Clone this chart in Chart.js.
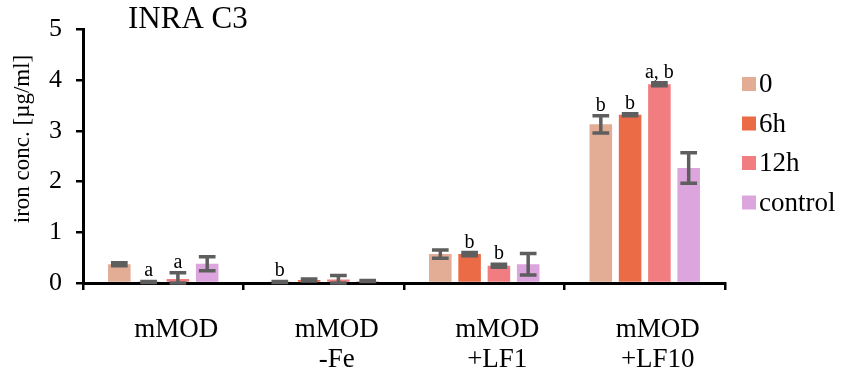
<!DOCTYPE html>
<html>
<head>
<meta charset="utf-8">
<script src="https://cdn.jsdelivr.net/npm/chart.js@4"></script>
<style>
  html, body { margin: 0; padding: 0; background: #fff; }
  #wrap { width: 851px; height: 376px; }
</style>
</head>
<body>
<div id="wrap"><canvas id="myChart" width="851" height="376"></canvas></div>
<script>
// data
const categories = [['mMOD'], ['mMOD', '-Fe'], ['mMOD', '+LF1'], ['mMOD', '+LF10']];
const seriesNames = ['0', '6h', '12h', 'control'];
const seriesColors = ['#E2AC95', '#EB6B47', '#F17D80', '#DDA5DD'];

const values0 = [0.37, 0.02, 0.57, 3.13];
const values6h = [0.02, 0.06, 0.57, 3.32];
const values12h = [0.08, 0.07, 0.34, 3.92];
const valuesControl = [0.38, 0.04, 0.37, 2.27];

const err0 = [0.03, 0.01, 0.08, 0.17];
const err6h = [0.01, 0.02, 0.03, 0.02];
const err12h = [0.12, 0.08, 0.03, 0.03];
const errControl = [0.14, 0.01, 0.21, 0.30];

const letters0 = ['', 'b', '', 'b'];
const letters6h = ['a', '', 'b', 'b'];
const letters12h = ['a', '', 'b', 'a, b'];
const lettersControl = ['', '', '', ''];

const yTicks = [0, 1, 2, 3, 4, 5];

const serif = "'Liberation Serif', 'DejaVu Serif', serif";

const allValues = [values0, values6h, values12h, valuesControl];
const allErrors = [err0, err6h, err12h, errControl];
const allLetters = [letters0, letters6h, letters12h, lettersControl];

// error bars and significance letters
const errorBarPlugin = {
  id: 'errorBars',
  afterDatasetsDraw(chart) {
    const ctx = chart.ctx;
    const yScale = chart.scales.y;
    chart.data.datasets.forEach((ds, i) => {
      const meta = chart.getDatasetMeta(i);
      meta.data.forEach((bar, j) => {
        const v = allValues[i][j];
        const e = allErrors[i][j];
        const yTop = yScale.getPixelForValue(v + e);
        const yBot = yScale.getPixelForValue(Math.max(v - e, 0));
        const half = bar.width * 0.37;
        ctx.save();
        ctx.strokeStyle = '#5e5e5e';
        ctx.lineWidth = 3.5;
        ctx.beginPath();
        ctx.moveTo(bar.x, yTop);
        ctx.lineTo(bar.x, yBot);
        ctx.moveTo(bar.x - half, yTop);
        ctx.lineTo(bar.x + half, yTop);
        ctx.moveTo(bar.x - half, yBot);
        ctx.lineTo(bar.x + half, yBot);
        ctx.stroke();

        const txt = allLetters[i][j];
        if (txt) {
          ctx.fillStyle = '#000';
          ctx.font = '20px ' + serif;
          ctx.textAlign = 'center';
          ctx.textBaseline = 'alphabetic';
          ctx.fillText(txt, bar.x, yTop - 5);
        }
        ctx.restore();
      });
    });
  }
};

// legend, title and axis title drawn by hand
const sideLegendPlugin = {
  id: 'sideLegend',
  afterDraw(chart) {
    const ctx = chart.ctx;
    ctx.save();
    ctx.font = '27px ' + serif;
    ctx.textBaseline = 'middle';
    ctx.textAlign = 'left';
    seriesNames.forEach((name, i) => {
      const y = 84 + i * 39.5;
      ctx.fillStyle = seriesColors[i];
      ctx.fillRect(742, y - 7, 14, 14);
      ctx.fillStyle = '#000';
      ctx.fillText(name, 759, y + 1);
    });
    ctx.font = '31px ' + serif;
    ctx.textBaseline = 'alphabetic';
    ctx.fillText('INRA C3', 128, 28);

    ctx.translate(23, 139);
    ctx.rotate(-Math.PI / 2);
    ctx.font = '23px ' + serif;
    ctx.textAlign = 'center';
    ctx.textBaseline = 'middle';
    ctx.fillText('iron conc. [µg/ml]', 0, 0);
    ctx.restore();
  }
};

const ctx = document.getElementById('myChart');

new Chart(ctx, {
  type: 'bar',
  data: {
    labels: categories,
    datasets: seriesNames.map((name, i) => ({
      label: name,
      data: allValues[i],
      backgroundColor: seriesColors[i],
      borderWidth: 0,
      barPercentage: 0.77,
      categoryPercentage: 0.73,
    })),
  },
  options: {
    responsive: false,
    animation: false,
    layout: { padding: { top: 19, right: 126, left: 0, bottom: 0 } },
    plugins: {
      legend: { display: false },
      tooltip: { enabled: false },
    },
    scales: {
      x: {
        afterFit: (scale) => { scale.height = 93; },
        grid: {
          display: true,
          drawOnChartArea: false,
          offset: true,
          color: '#000',
          lineWidth: 2.5,
          tickLength: 7,
        },
        border: { color: '#000', width: 3 },
        ticks: {
          color: '#000',
          padding: 25,
          labelOffset: 13,
          font: { family: serif, size: 27, lineHeight: 1.1 },
          maxRotation: 0,
        },
      },
      y: {
        min: 0,
        max: 5,
        afterFit: (scale) => { scale.width = 83; },
        afterBuildTicks: (scale) => { scale.ticks = yTicks.map((v) => ({ value: v })); },
        grid: {
          display: true,
          drawOnChartArea: false,
          color: '#000',
          lineWidth: 2.5,
          tickLength: 7,
        },
        border: { color: '#000', width: 3 },
        ticks: {
          color: '#000',
          padding: 14,
          font: { family: serif, size: 26 },
        },
      },
    },
  },
  plugins: [errorBarPlugin, sideLegendPlugin],
});
</script>
</body>
</html>
